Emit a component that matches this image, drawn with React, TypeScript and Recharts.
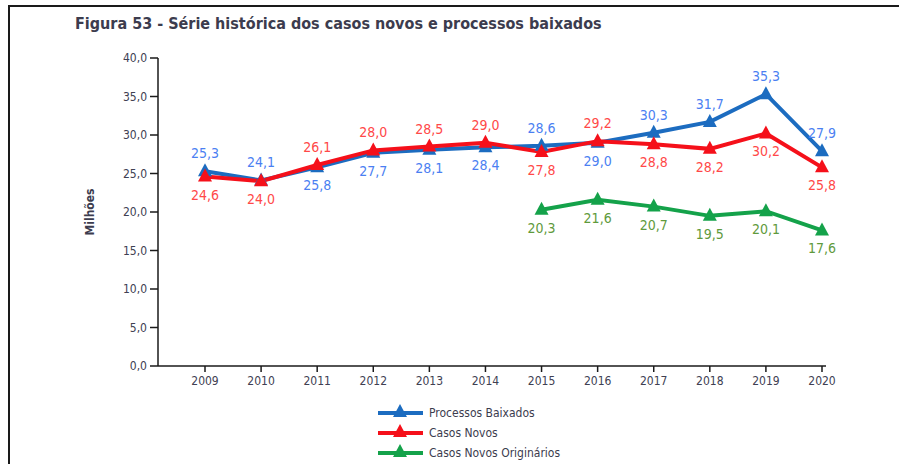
import React from 'react';
import { LineChart, Line, XAxis, YAxis, LabelList } from 'recharts';

const years = ['2009', '2010', '2011', '2012', '2013', '2014', '2015', '2016', '2017', '2018', '2019', '2020'];
const processosBaixados = [25.3, 24.1, 25.8, 27.7, 28.1, 28.4, 28.6, 29.0, 30.3, 31.7, 35.3, 27.9];
const casosNovos = [24.6, 24.0, 26.1, 28.0, 28.5, 29.0, 27.8, 29.2, 28.8, 28.2, 30.2, 25.8];
const casosNovosOriginarios: (number | null)[] = [null, null, null, null, null, null, 20.3, 21.6, 20.7, 19.5, 20.1, 17.6];
const yTicks = [0, 5, 10, 15, 20, 25, 30, 35, 40];
const bluePos = ['top', 'top', 'bottom', 'bottom', 'bottom', 'bottom', 'top', 'bottom', 'top', 'top', 'top', 'top'];
const redPos = ['bottom', 'bottom', 'top', 'top', 'top', 'top', 'bottom', 'top', 'bottom', 'bottom', 'bottom', 'bottom'];
const greenPos = years.map(() => 'bottom');

const title = 'Figura 53 - Série histórica dos casos novos e processos baixados';
const yLabel = 'Milhões';

const data = years.map((year, i) => ({
  year,
  pb: processosBaixados[i],
  cn: casosNovos[i],
  cno: casosNovosOriginarios[i],
}));

const FONT = "'DejaVu Sans Condensed', 'Liberation Sans Narrow', sans-serif";
const AXIS_TEXT = '#404052';

const series = [
  { key: 'pb', name: 'Processos Baixados', color: '#1c6cc0', labelColor: '#4b7ff2', pos: bluePos },
  { key: 'cn', name: 'Casos Novos', color: '#f5101a', labelColor: '#ff4848', pos: redPos },
  { key: 'cno', name: 'Casos Novos Originários', color: '#14a24a', labelColor: '#5f9a3c', pos: greenPos },
];

const fmt = (v: number) => v.toFixed(1).replace('.', ',');

const triPath = (cx: number, cy: number) =>
  `M${cx},${cy - 8} L${cx + 7},${cy + 5} L${cx - 7},${cy + 5} Z`;

const makeDot = (color: string) => (props: any) => {
  const { cx, cy, value, index } = props;
  if (value == null || cx == null || cy == null || isNaN(cy)) return <g key={`d-${index}`} />;
  return <path key={`d-${index}`} d={triPath(cx, cy)} fill={color} />;
};

const makeLabel = (positions: string[], color: string) => (props: any) => {
  const { x, y, value, index } = props;
  if (value == null || y == null) return null;
  const dy = positions[index] === 'top' ? -18 : 18;
  return (
    <text
      x={x}
      y={y + dy}
      fill={color}
      fontSize={14}
      fontFamily={FONT}
      textAnchor="middle"
      dominantBaseline="central"
    >
      {fmt(Number(value))}
    </text>
  );
};

export default function App() {
  return (
    <div style={{ position: 'absolute', left: 0, top: 0, width: 899, height: 464, background: '#fff', overflow: 'hidden' }}>
      <div style={{ position: 'absolute', left: 8, top: 5, width: 891, height: 2, background: '#1a1a1a' }} />
      <div style={{ position: 'absolute', left: 8, top: 5, width: 2, height: 459, background: '#1a1a1a' }} />
      <div
        style={{
          position: 'absolute',
          left: 75,
          top: 14,
          fontFamily: FONT,
          fontWeight: 'bold',
          fontSize: 16,
          color: '#3c3c4e',
          whiteSpace: 'nowrap',
          lineHeight: '20px',
        }}
      >
        {title}
      </div>
      <div style={{ position: 'absolute', left: 0, top: 0 }}>
        <LineChart width={899} height={464} data={data} margin={{ top: 58, right: 73, bottom: 68, left: 98 }}>
          <XAxis
            dataKey="year"
            padding={{ left: 47, right: 4 }}
            axisLine={{ stroke: '#1a1a1a', strokeWidth: 1.5 }}
            tickLine={{ stroke: '#1a1a1a', strokeWidth: 1.5 }}
            tickSize={6}
            tickMargin={4}
            height={30}
            interval={0}
            tick={{ fill: AXIS_TEXT, fontSize: 12, fontFamily: FONT }}
          />
          <YAxis
            domain={[0, 40]}
            ticks={yTicks}
            width={60}
            axisLine={{ stroke: '#1a1a1a', strokeWidth: 1.5 }}
            tickLine={{ stroke: '#1a1a1a', strokeWidth: 1.5 }}
            tickSize={8}
            tickMargin={3}
            tickFormatter={(v: number) => fmt(v)}
            tick={{ fill: AXIS_TEXT, fontSize: 12, fontFamily: FONT }}
            label={{
              value: yLabel,
              content: (p: any) => {
                const vb = p.viewBox || {};
                const cx = (vb.x ?? 98) - 8;
                const cy = (vb.y ?? 58) + (vb.height ?? 308) / 2;
                return (
                  <text
                    x={cx}
                    y={cy}
                    transform={`rotate(-90, ${cx}, ${cy})`}
                    textAnchor="middle"
                    dominantBaseline="central"
                    fill="#3c3c4e"
                    fontSize={12}
                    fontWeight="bold"
                    fontFamily={FONT}
                  >
                    {yLabel}
                  </text>
                );
              },
            }}
          />
          {series.map((s) => (
            <Line
              key={s.key}
              dataKey={s.key}
              name={s.name}
              stroke={s.color}
              strokeWidth={4}
              dot={makeDot(s.color)}
              activeDot={false}
              isAnimationActive={false}
              connectNulls={false}
              type="linear"
            >
              <LabelList dataKey={s.key} content={makeLabel(s.pos, s.labelColor)} />
            </Line>
          ))}
        </LineChart>
      </div>
      <div style={{ position: 'absolute', left: 377, top: 403 }}>
        {series.map((s) => (
          <div key={s.key} style={{ display: 'flex', alignItems: 'center', height: 20 }}>
            <svg width={48} height={20}>
              <line x1={1} y1={10} x2={46} y2={10} stroke={s.color} strokeWidth={4} />
              <path d={triPath(23, 9)} fill={s.color} />
            </svg>
            <span
              style={{
                fontFamily: FONT,
                fontSize: 12,
                color: '#3c3c4e',
                marginLeft: 4,
                whiteSpace: 'nowrap',
              }}
            >
              {s.name}
            </span>
          </div>
        ))}
      </div>
    </div>
  );
}
